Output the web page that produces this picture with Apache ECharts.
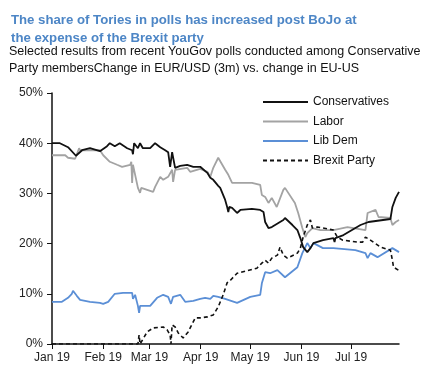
<!DOCTYPE html>
<html><head><meta charset="utf-8">
<script src="https://cdn.jsdelivr.net/npm/echarts@6/dist/echarts.min.js"></script>
<style>html,body{margin:0;padding:0;background:#fff}#c{width:431px;height:374px}</style>
</head><body><div id="c"></div>
<script>
// x values: days since 1 Jan 2019; y values in %
const seriesNames = ['Conservatives', 'Labor', 'Lib Dem', 'Brexit Party'];
const conDays = [0,4.8,9.7,14.5,18.2,23,29,33.3,35,38,41,45.5,48.5,49,49.7,52,53.3,55,59.4,62.4,65.5,68.5,70.3,71.5,72.7,74.5,77.6,81.8,85.5,89.7,94,95.8,97.6,100.6,101.8,104.8,106,106.7,107.3,109,112,114,121,126,128,129,131,133,137,140,141,145.5,148.5,150.3,152,154.5,156.4,158.2,164,170.3,171,171.5,176.4,186.7,191.5,204.8,206,208,210];
const conVals = [40.0,40.0,39.2,37.5,38.6,39.0,38.4,39.4,40.0,39.4,40.0,39.0,38.6,37.8,40.0,39.0,40.0,39.0,39.0,40.0,39.2,38.6,38.2,35.3,38.2,35.1,35.5,35.7,35.3,35.3,34.1,33.1,32.7,31.5,31.1,28.7,27.3,26.3,27.3,27.1,26.1,26.7,26.9,26.7,26.3,24.3,23.1,23.3,24.1,24.7,25.1,23.7,22.7,21.1,19.3,18.3,19.1,20.1,20.7,21.1,20.3,21.1,21.7,23.7,24.3,24.9,27.3,29.1,30.3];
const labDays = [0,8,9.7,14,16.4,17,21,29,31,35,39.4,42.4,47.3,48,48.5,49,52,53.3,54,57.6,61.2,62.4,65.5,67.3,70.3,72.7,73.3,74.5,81.8,83.6,89.7,94,95.8,97.6,100.6,104.8,106.7,109,112,121,126,127,129,131,133,136,140,141,147,149,151.5,153.3,154.5,157.6,162.4,170.3,178.8,189.7,191,195.8,197.6,204.8,206,208,210];
const labVals = [37.6,37.6,37.1,36.9,39.0,38.6,38.6,38.6,37.6,36.3,35.7,35.3,35.7,36.3,32.1,35.7,31.1,30.1,31.1,30.7,30.3,31.3,33.3,32.7,33.3,34.7,32.3,34.7,35.1,34.3,34.9,34.3,33.3,35.1,37.1,34.7,33.7,32.1,32.1,32.1,31.7,29.7,29.3,28.1,29.1,27.3,30.7,31.1,28.1,26.1,23.1,21.3,22.1,23.1,22.7,22.7,23.3,22.7,26.1,26.7,25.3,25.1,23.7,24.3,24.7];
const ldDays = [0,6,9.7,12,12.7,15,17,23,29,31,34,38,43,48.5,49,50.3,52,52.7,53.3,59.4,63.6,67.3,70.3,72,73.3,77.6,80.6,85.5,89.7,92.7,95.8,97.6,100.6,104.8,112,120,126,127,129,132,136.4,141,148.5,151.5,154.5,156.4,158.2,164,170.3,183.6,189.7,191,192.7,197,206,210];
const ldVals = [8.4,8.4,9.2,10.0,10.6,9.6,8.8,8.4,8.2,8.0,8.4,10.0,10.2,10.2,9.0,9.8,7.6,6.2,7.6,7.6,9.2,9.8,9.4,8.0,9.4,9.8,8.4,8.6,9.0,9.2,9.0,9.6,9.4,9.0,8.2,9.4,9.8,12.1,14.3,14.1,14.7,13.3,15.3,18.1,20.1,19.1,20.1,19.1,19.1,18.7,18.1,17.1,18.1,17.3,19.1,18.3];
const bxDays = [0,52,52.7,53.3,57.6,61.2,67.3,69.7,71.5,72,72.7,74.5,76.4,79.4,82.4,86.7,89.7,94,97.6,100.6,103.6,106,108,112,124,127,129,131,133,136.4,138,140,142.4,148.5,150.3,152,154.5,156.4,157.6,160.6,164,170.3,172.7,175.8,184.8,188,189.7,192.7,198.8,204.8,206,206.7,209.7];
const bxVals = [0,0,1.8,0,2.4,3.2,3.4,2.8,1.8,0,3.8,3.4,2.2,1.2,2.4,5.2,5.2,5.4,5.8,7.4,9.8,12.2,12.7,14.1,15.1,16.1,16.7,16.1,17.1,17.7,19.3,17.7,17.1,18.1,19.1,21.3,23.7,24.7,23.1,23.3,23.1,22.7,21.3,20.7,20.3,20.3,21.3,20.7,19.3,18.7,16.7,15.3,14.7];
const yTicks = [0, 10, 20, 30, 40, 50];

const DAY = 86400000, T0 = Date.UTC(2019, 0, 1);
const pts = (d, v) => d.map((x, i) => [T0 + x * DAY, v[i]]);
const MON = ['Jan','Feb','Mar','Apr','May','Jun','Jul','Aug','Sep','Oct','Nov','Dec'];

const chart = echarts.init(document.getElementById('c'));
const font = 'Liberation Sans, Arial, sans-serif';
chart.setOption({
  useUTC: true,
  animation: false,
  title: [{
    text: 'The share of Tories in polls has increased post BoJo at\nthe expense of the Brexit party',
    left: 6, top: 6,
    textStyle: {fontFamily: font, fontSize: 13.2, fontWeight: 'bold', color: '#4d86c6', lineHeight: 18}
  }, {
    text: 'Selected results from recent YouGov polls conducted among Conservative\nParty membersChange in EUR/USD (3m) vs. change in EU-US',
    left: 4, top: 38,
    textStyle: {fontFamily: font, fontSize: 12.5, fontWeight: 'normal', color: '#111', lineHeight: 17}
  }],
  legend: {
    data: seriesNames,
    orient: 'vertical',
    left: 257, top: 91,
    itemWidth: 45, itemHeight: 12, itemGap: 7.5,
    itemStyle: {opacity: 0},
    textStyle: {fontFamily: font, fontSize: 12, color: '#111'}
  },
  grid: {left: 52, right: 32, top: 93, bottom: 30},
  xAxis: {
    type: 'time',
    min: T0, max: T0 + 210 * DAY,
    splitNumber: 7,
    axisLine: {lineStyle: {color: '#111', width: 1.5}},
    axisTick: {show: true, inside: false, length: 5, lineStyle: {color: '#111'}},
    splitLine: {show: false},
    axisLabel: {
      fontFamily: font, fontSize: 12, color: '#222', margin: 8, showMaxLabel: false,
      formatter: v => { const d = new Date(v); return MON[d.getUTCMonth()] + ' ' + String(d.getUTCFullYear()).slice(2); }
    }
  },
  yAxis: {
    type: 'value', min: yTicks[0], max: yTicks[yTicks.length - 1], interval: 10,
    axisLine: {show: true, lineStyle: {color: '#111', width: 1.5}},
    axisTick: {show: true, length: 5, lineStyle: {color: '#111'}},
    splitLine: {show: false},
    axisLabel: {fontFamily: font, fontSize: 12, color: '#222', margin: 9, formatter: '{value}%'}
  },
  series: [
    {name: 'Lib Dem', type: 'line', data: pts(ldDays, ldVals), showSymbol: false, symbol: 'none', z: 2,
      lineStyle: {color: '#5b8fd6', width: 1.8}, itemStyle: {color: '#5b8fd6'}},
    {name: 'Labor', type: 'line', data: pts(labDays, labVals), showSymbol: false, symbol: 'none', z: 3,
      lineStyle: {color: '#a3a3a3', width: 1.8}, itemStyle: {color: '#a3a3a3'}},
    {name: 'Brexit Party', type: 'line', data: pts(bxDays, bxVals), showSymbol: false, symbol: 'none', z: 4,
      lineStyle: {color: '#111', width: 1.6, type: [4, 3]}, itemStyle: {color: '#111'}},
    {name: 'Conservatives', type: 'line', data: pts(conDays, conVals), showSymbol: false, symbol: 'none', z: 5,
      lineStyle: {color: '#111', width: 1.8}, itemStyle: {color: '#111'}}
  ]
});
</script></body></html>
